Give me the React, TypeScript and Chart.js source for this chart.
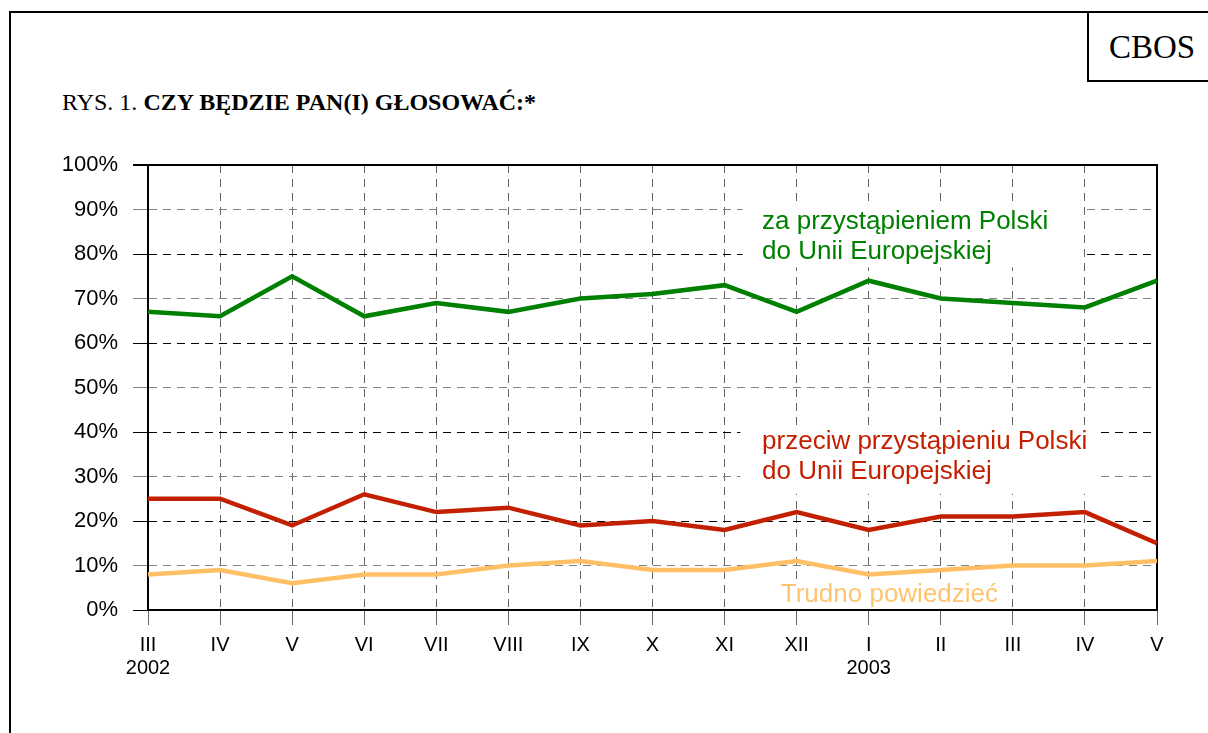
import React, { useEffect, useRef } from "react";
import { Chart, registerables } from "chart.js";

Chart.register(...registerables);

// ---- data ----
const months = ["III", "IV", "V", "VI", "VII", "VIII", "IX", "X", "XI", "XII", "I", "II", "III", "IV", "V"];
const years = ["2002", "", "", "", "", "", "", "", "", "", "2003", "", "", "", ""];
const zaValues = [67, 66, 75, 66, 69, 67, 70, 71, 73, 67, 74, 70, 69, 68, 74];
const przeciwValues = [25, 25, 19, 26, 22, 23, 19, 20, 18, 22, 18, 21, 21, 22, 15];
const trudnoValues = [8, 9, 6, 8, 8, 10, 11, 9, 9, 11, 8, 9, 10, 10, 11];
const seriesNames = ["za przystąpieniem", "przeciw przystąpieniu", "Trudno powiedzieć"];
const zaLabel = ["za przystąpieniem Polski", "do Unii Europejskiej"];
const przeciwLabel = ["przeciw przystąpieniu Polski", "do Unii Europejskiej"];
const trudnoLabel = ["Trudno powiedzieć"];

const GREEN = "#008000";
const RED = "#c22000";
const ORANGE = "#ffbf66";
const ORANGE_TEXT = "#ffc470";
const SANS = "'Liberation Sans', Arial, sans-serif";
const SERIF = "'Liberation Serif', 'Times New Roman', serif";

const annotationPlugin = {
  id: "annotations",
  beforeDatasetsDraw(chart: any) {
    const { ctx, chartArea: a, scales } = chart;
    const x = scales.x;
    const y = scales.y;
    ctx.save();
    ctx.strokeStyle = "#000";
    ctx.lineWidth = 2;
    ctx.setLineDash([]);
    ctx.beginPath();
    ctx.moveTo(a.left - 15, a.top);
    ctx.lineTo(a.right, a.top);
    ctx.lineTo(a.right, a.bottom);
    ctx.stroke();

    const box = (i0: number, i1: number, v0: number, v1: number) => {
      const x0 = x.getPixelForValue(i0);
      const x1 = x.getPixelForValue(i1);
      const y0 = y.getPixelForValue(v0);
      const y1 = y.getPixelForValue(v1);
      ctx.fillStyle = "#fff";
      ctx.fillRect(x0, y0, x1 - x0, y1 - y0);
    };
    box(8.25, 12.95, 91.5, 77);
    box(8.22, 13.2, 41.1, 26.1);
    box(8.7, 11.9, 6.8, 0.6);

    ctx.font = `26px ${SANS}`;
    ctx.textAlign = "left";
    ctx.textBaseline = "middle";
    const text = (lines: string[], i: number, vals: number[], color: string) => {
      ctx.fillStyle = color;
      lines.forEach((t, k) => ctx.fillText(t, x.getPixelForValue(i), y.getPixelForValue(vals[k])));
    };
    text(zaLabel, 8.52, [87.2, 80.4], GREEN);
    text(przeciwLabel, 8.52, [37.8, 31.0], RED);
    text(trudnoLabel, 8.78, [3.4], ORANGE_TEXT);
    ctx.restore();
  },
};

export default function App() {
  const ref = useRef<HTMLCanvasElement>(null);

  useEffect(() => {
    if (!ref.current) return;
    const labels = months.map((m, i) => (years[i] ? [m, years[i]] : m));
    const chart = new Chart(ref.current, {
      type: "line",
      data: {
        labels,
        datasets: [
          { label: seriesNames[0], data: zaValues, borderColor: GREEN, backgroundColor: GREEN },
          { label: seriesNames[1], data: przeciwValues, borderColor: RED, backgroundColor: RED },
          { label: seriesNames[2], data: trudnoValues, borderColor: ORANGE, backgroundColor: ORANGE },
        ].map((d) => ({ ...d, borderWidth: 4.5, pointRadius: 0, tension: 0, fill: false })),
      },
      options: {
        animation: false,
        responsive: true,
        maintainAspectRatio: false,
        layout: { padding: { top: 165, right: 51, left: 0, bottom: 0 } },
        plugins: { legend: { display: false }, tooltip: { enabled: false } },
        scales: {
          x: {
            type: "category",
            offset: false,
            afterFit: (s: any) => {
              s.height = 123;
            },
            grid: {
              color: "#666",
              lineWidth: 1,
              tickLength: 15,
              tickColor: "#666",
              drawTicks: true,
            },
            border: { display: true, color: "#000", width: 2, dash: [8, 6] },
            ticks: {
              color: "#000",
              padding: 9,
              maxRotation: 0,
              autoSkip: false,
              font: { family: SANS, size: 20, lineHeight: 1.15 },
            },
          },
          y: {
            min: 0,
            max: 100,
            afterFit: (s: any) => {
              s.width = 148;
            },
            grid: {
              color: (c: any) => (c.tick && c.tick.value % 20 === 0 ? "#000" : "#808080"),
              lineWidth: 1,
              tickLength: 15,
              tickColor: (c: any) => (c.tick && c.tick.value % 20 === 0 ? "#000" : "#808080"),
            },
            border: { display: true, color: "#000", width: 2, dash: [8, 6] },
            ticks: {
              stepSize: 10,
              color: "#000",
              padding: 15,
              font: { family: SANS, size: 22 },
              callback: (v: any) => `${v}%`,
            },
          },
        },
      },
      plugins: [annotationPlugin],
    } as any);
    return () => chart.destroy();
  }, []);

  return (
    <div
      style={{
        position: "fixed",
        left: 0,
        top: 0,
        width: 1208,
        height: 733,
        overflow: "hidden",
        background: "#fff",
      }}
    >
      <div
        style={{
          position: "absolute",
          left: 9,
          top: 11,
          width: 1400,
          height: 900,
          borderLeft: "2px solid #000",
          borderTop: "2px solid #000",
        }}
      />
      <div
        style={{
          position: "absolute",
          left: 1087,
          top: 11,
          width: 200,
          height: 69,
          borderLeft: "2px solid #000",
          borderBottom: "2px solid #000",
        }}
      />
      <div
        style={{
          position: "absolute",
          left: 1109,
          top: 29,
          fontFamily: SERIF,
          fontSize: 33,
          lineHeight: "36px",
          color: "#000",
          whiteSpace: "nowrap",
        }}
      >
        CBOS
      </div>
      <div
        style={{
          position: "absolute",
          left: 62,
          top: 89,
          fontFamily: SERIF,
          fontSize: 24,
          lineHeight: "26px",
          color: "#000",
          whiteSpace: "nowrap",
        }}
      >
        RYS. 1. <b>CZY BĘDZIE PAN(I) GŁOSOWAĆ:*</b>
      </div>
      <div style={{ position: "absolute", left: 0, top: 0, width: 1208, height: 733 }}>
        <canvas ref={ref} />
      </div>
    </div>
  );
}
